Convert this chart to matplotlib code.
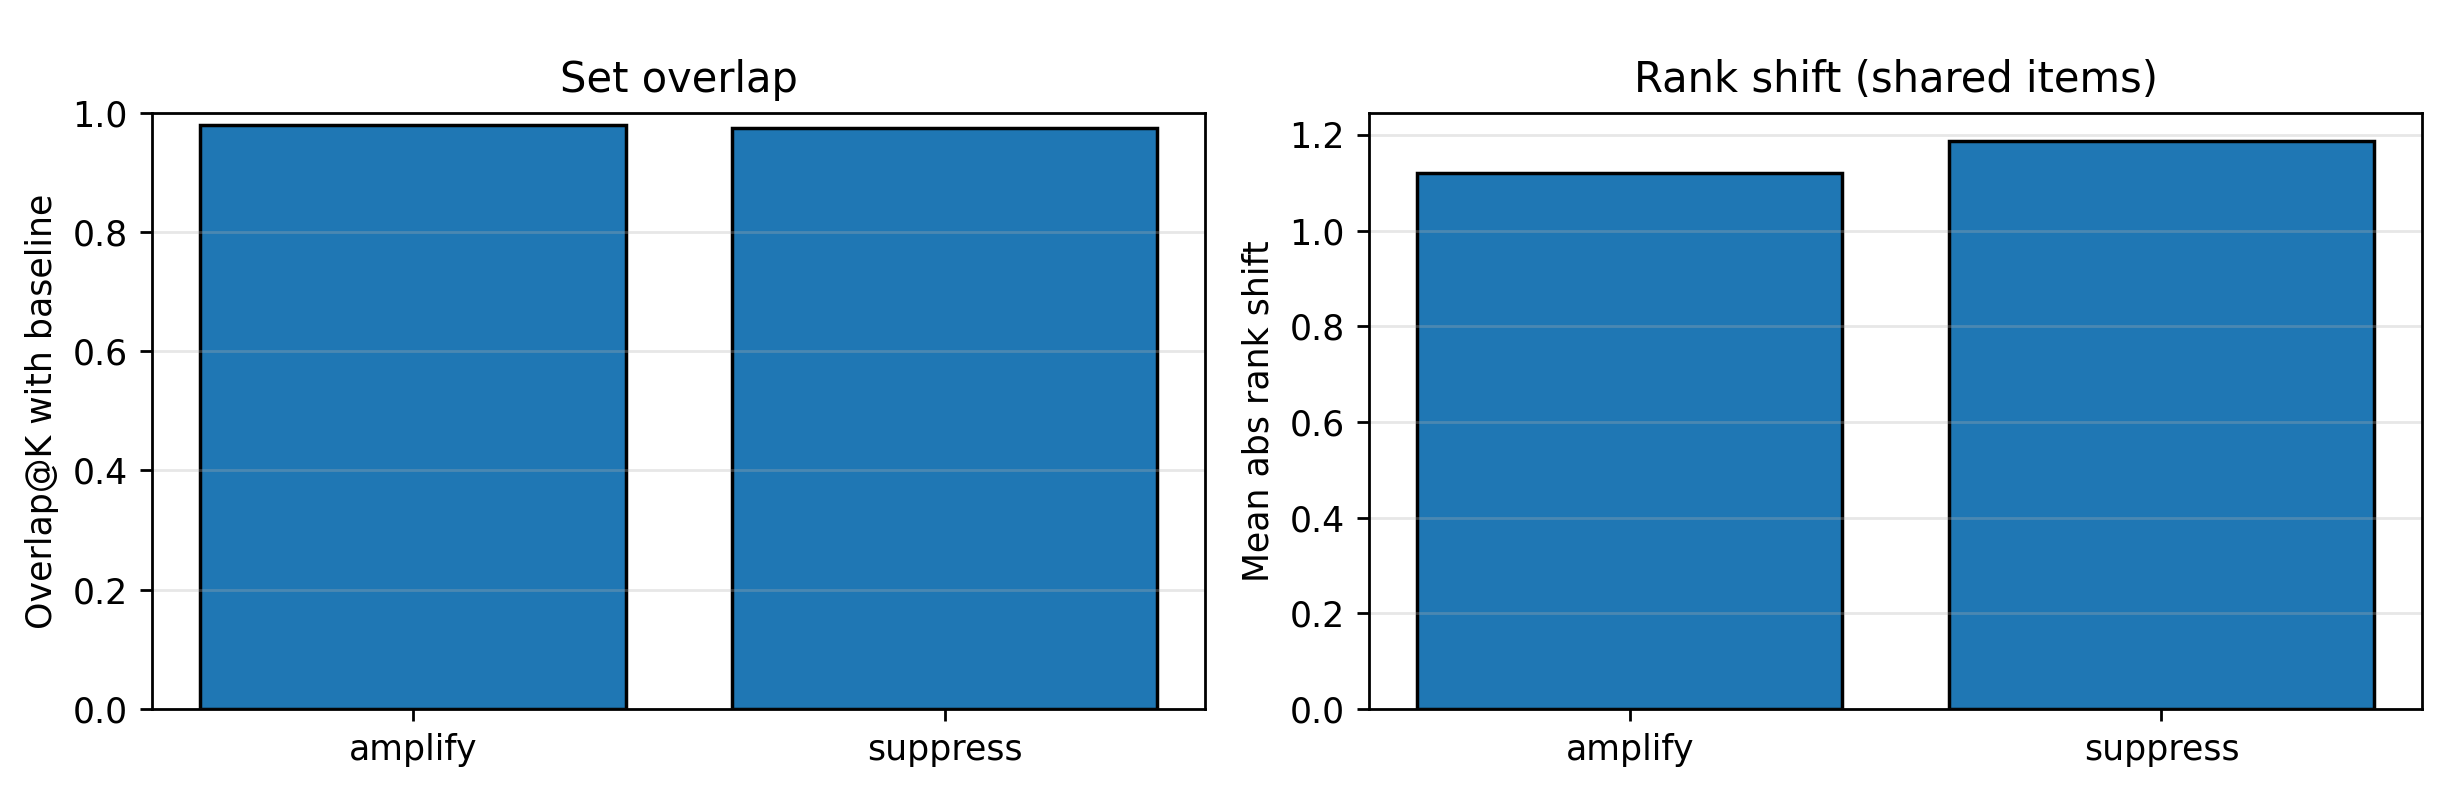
import matplotlib
matplotlib.use("Agg")
import matplotlib.pyplot as plt

modes = ["amplify", "suppress"]
overlap = [0.979, 0.975]
rank_shift = [1.120, 1.187]

fig, axes = plt.subplots(1, 2, figsize=(9.792, 3.168), dpi=250)

ax = axes[0]
ax.bar(modes, overlap, color="#1f77b4", edgecolor="black")
ax.set_ylim(0, 1)
ax.set_ylabel("Overlap@K with baseline")
ax.set_title("Set overlap")
ax.grid(axis="y", alpha=0.3)

ax = axes[1]
ax.bar(modes, rank_shift, color="#1f77b4", edgecolor="black")
ax.set_ylabel("Mean abs rank shift")
ax.set_title("Rank shift (shared items)")
ax.grid(axis="y", alpha=0.3)

plt.subplots_adjust(left=0.0622, right=0.9894, top=0.8577, bottom=0.1048, wspace=0.1557)
plt.savefig("out.png", dpi=250)
